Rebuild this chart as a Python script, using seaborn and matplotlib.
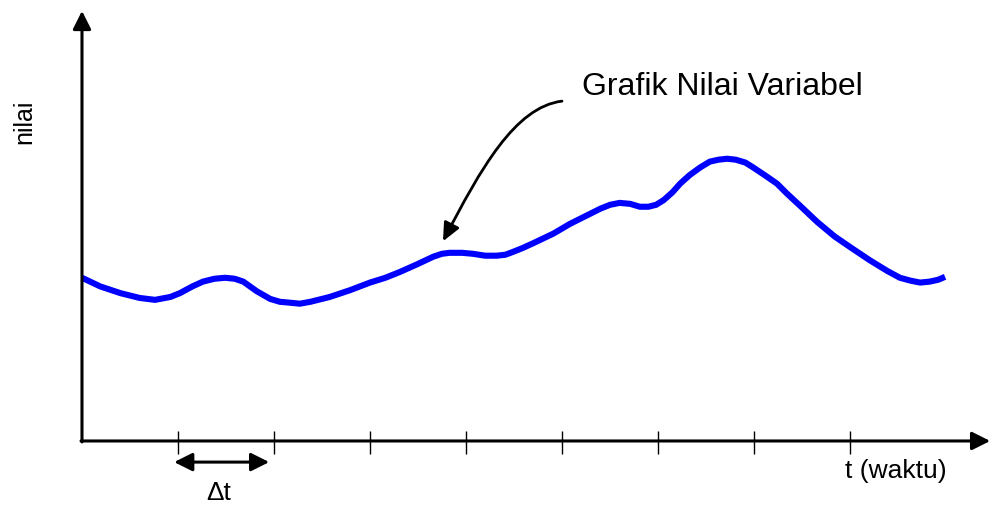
import numpy as np
import pandas as pd
import seaborn as sns
import matplotlib
matplotlib.use("Agg")
import matplotlib.pyplot as plt
from matplotlib.patches import FancyArrowPatch
from matplotlib.path import Path

# ---- data (t in units of delta-t, nilai in same units) ----
t_vals = [0.00, 0.19, 0.40, 0.60, 0.76, 0.92, 1.02, 1.15, 1.26, 1.38, 1.49, 1.59,
          1.68, 1.75, 1.82, 1.89, 1.96, 2.06, 2.17, 2.27, 2.38, 2.58, 2.79, 3.00,
          3.16, 3.31, 3.49, 3.66, 3.75, 3.83, 3.96, 4.07, 4.20, 4.32, 4.41, 4.49,
          4.59, 4.70, 4.91, 5.08, 5.26, 5.40, 5.50, 5.60, 5.71, 5.81, 5.90, 5.98,
          6.06, 6.15, 6.23, 6.33, 6.44, 6.54, 6.63, 6.72, 6.81, 6.91, 6.99, 7.11,
          7.24, 7.34, 7.48, 7.66, 7.84, 8.03, 8.21, 8.39, 8.52, 8.63, 8.73, 8.83,
          8.92, 8.99]
nilai_vals = [1.70, 1.61, 1.54, 1.49, 1.47, 1.50, 1.54, 1.61, 1.66, 1.69, 1.70, 1.69,
              1.66, 1.61, 1.56, 1.52, 1.48, 1.45, 1.44, 1.43, 1.45, 1.50, 1.57, 1.65,
              1.70, 1.76, 1.84, 1.92, 1.95, 1.96, 1.96, 1.95, 1.93, 1.93, 1.94, 1.97,
              2.01, 2.06, 2.16, 2.26, 2.35, 2.42, 2.46, 2.48, 2.47, 2.44, 2.44, 2.46,
              2.51, 2.59, 2.68, 2.77, 2.85, 2.91, 2.93, 2.94, 2.93, 2.90, 2.85, 2.77,
              2.68, 2.58, 2.45, 2.28, 2.13, 2.00, 1.88, 1.77, 1.70, 1.67, 1.65, 1.66,
              1.68, 1.71]
tick_positions = [1, 2, 3, 4, 5, 6, 7, 8]

title_label = "Grafik Nilai Variabel"
x_label = "t (waktu)"
y_label = "nilai"
dt_label = "\u0394t"

sns.set_theme(style="white")
plt.rcParams['font.family'] = ['Liberation Sans', 'DejaVu Sans']

fig = plt.figure(figsize=(9.9, 5.06), dpi=100)
ax = fig.add_axes([0, 0, 1, 1])
ax.set_xlim(-0.854, 9.458)
ax.set_ylim(-0.667, 4.604)
ax.axis('off')

df = pd.DataFrame({"t": t_vals, "nilai": nilai_vals})
sns.lineplot(data=df, x="t", y="nilai", ax=ax, color="#0000FF", lw=4.4,
             sort=False, solid_joinstyle='round', solid_capstyle='butt', zorder=3)

# axes with arrows
axis_style = "-|>,head_length=1.1,head_width=0.55"
ax.annotate("", xy=(9.46, 0), xytext=(-0.01, 0),
            arrowprops=dict(arrowstyle=axis_style, color="black", lw=2.2,
                            mutation_scale=10, shrinkA=0, shrinkB=0))
ax.annotate("", xy=(0, 4.48), xytext=(0, -0.01),
            arrowprops=dict(arrowstyle=axis_style, color="black", lw=2.2,
                            mutation_scale=10, shrinkA=0, shrinkB=0))

# ticks
ax.vlines(tick_positions, -0.135, 0.104, color="black", lw=1.0)

# delta t double arrow
ax.annotate("", xy=(1.95, -0.22), xytext=(0.96, -0.22),
            arrowprops=dict(arrowstyle="<|-|>,head_length=1.1,head_width=0.55",
                            color="black", lw=2.2, mutation_scale=10,
                            shrinkA=0, shrinkB=0))

# texts
ax.text(-0.60, 3.33, y_label, rotation=90, ha='center', va='center',
        fontsize=18, color='black')
ax.text(1.42, -0.53, dt_label, ha='center', va='center', fontsize=19,
        color='black')
ax.text(7.95, -0.30, x_label, ha='left', va='center', fontsize=19,
        color='black')
ax.text(5.21, 3.61, title_label, ha='left', va='baseline', fontsize=23,
        color='black')

# curved annotation arrow
p = Path([(5.00, 3.54), (4.51, 3.48), (4.15, 2.83), (3.76, 2.08)],
         [Path.MOVETO, Path.CURVE4, Path.CURVE4, Path.CURVE4])
arr = FancyArrowPatch(path=p, arrowstyle="-|>,head_length=1.1,head_width=0.5",
                      mutation_scale=10, color="black", lw=2.0,
                      transform=ax.transData)
ax.add_patch(arr)

fig.savefig("out.png", dpi=100, facecolor="white")
